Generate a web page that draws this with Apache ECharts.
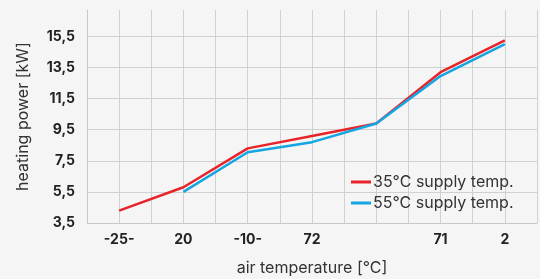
<!DOCTYPE html>
<html>
<head>
<meta charset="utf-8">
<script src="https://cdn.jsdelivr.net/npm/echarts@6/dist/echarts.min.js"></script>
<style>
  html, body { margin: 0; padding: 0; background: #f5f5f5; }
  #chart { width: 540px; height: 279px; }
</style>
</head>
<body>
<div id="chart"></div>
<script>
// positions on the x axis (gridline index) and their labels
var xPos = [1, 3, 5, 7, 9, 11, 13];
var xLabels = ["-25-", "20", "-10-", "72", "", "71", "2"];
// heating power [kW]
var red35 = [4.3, 5.8, 8.3, 9.1, 9.9, 13.2, 15.25];
var blue55 = [null, 5.5, 8.05, 8.7, 9.9, 12.95, 15.0];

function pairs(vals) {
  var out = [];
  for (var i = 0; i < vals.length; i++) {
    if (vals[i] != null) out.push([xPos[i], vals[i]]);
  }
  return out;
}

var mychart = echarts.init(document.getElementById("chart"));
var font = "Inter";
var option = {
  backgroundColor: "#f5f5f5",
  animation: false,
  grid: { left: 87, right: 3, top: 10, bottom: 56, outerBoundsMode: "none" },
  legend: {
    orient: "vertical",
    left: 346,
    top: 169,
    itemWidth: 20,
    itemHeight: 3,
    itemGap: 5,
    icon: "rect",
    textStyle: { fontFamily: font, fontSize: 16, color: "#333", padding: [0, 0, 0, -3] },
    data: ["35°C supply temp.", "55°C supply temp."]
  },
  xAxis: {
    type: "value",
    min: 0,
    max: 14,
    interval: 1,
    name: "air temperature [°C]",
    nameLocation: "middle",
    nameGap: 37,
    nameTextStyle: { fontFamily: font, fontSize: 16, color: "#333" },
    axisLine: { lineStyle: { color: "#c8c8c8" } },
    axisTick: { show: false },
    axisLabel: {
      fontFamily: font, fontSize: 14, fontWeight: "bold", color: "#222", margin: 10,
      formatter: function (v) {
        var i = xPos.indexOf(v);
        return i >= 0 ? xLabels[i] : "";
      }
    },
    splitLine: { show: true, lineStyle: { color: "#d0d0d0" } }
  },
  yAxis: {
    type: "value",
    min: 3.5,
    max: 17.2,
    interval: 2,
    name: "heating power [kW]",
    nameLocation: "middle",
    nameGap: 56,
    nameTextStyle: { fontFamily: font, fontSize: 16, color: "#333" },
    axisLine: { show: true, lineStyle: { color: "#c8c8c8" } },
    axisTick: { show: false },
    axisLabel: {
      fontFamily: font, fontSize: 14, fontWeight: "bold", color: "#222", margin: 12,
      showMaxLabel: false,
      formatter: function (v) { return v.toFixed(1).replace(".", ","); }
    },
    splitLine: { show: true, showMaxLine: false, lineStyle: { color: "#d0d0d0" } }
  },
  series: [
    {
      name: "35°C supply temp.",
      type: "line",
      data: pairs(red35),
      symbol: "none",
      color: "#e8242b",
      lineStyle: { width: 2.5 }
    },
    {
      name: "55°C supply temp.",
      type: "line",
      data: pairs(blue55),
      symbol: "none",
      color: "#14a6e2",
      lineStyle: { width: 2.5 }
    }
  ]
};
mychart.setOption(option);
</script>
</body>
</html>
